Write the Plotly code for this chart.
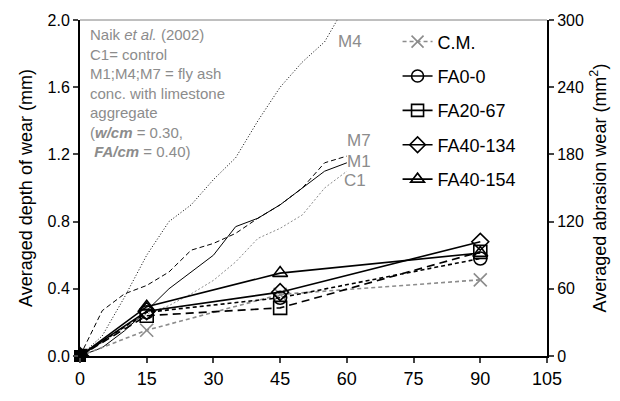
import plotly.graph_objects as go

# Naik et al. (2002) reference curves (depth of wear, mm)
naik_days = [0, 5, 10, 15, 20, 25, 30, 35, 40, 45, 50, 55, 60]
C1 = [0, 0.08, 0.17, 0.25, 0.30, 0.37, 0.45, 0.56, 0.70, 0.76, 0.84, 1.00, 1.10]
M1 = [0, 0.05, 0.15, 0.27, 0.40, 0.50, 0.60, 0.77, 0.82, 0.90, 1.00, 1.10, 1.15]
M4 = [0, 0.12, 0.35, 0.60, 0.80, 0.90, 1.05, 1.18, 1.40, 1.60, 1.75, 1.87, 2.10]
M7 = [0, 0.27, 0.37, 0.42, 0.50, 0.63, 0.67, 0.73, 0.82, 0.90, 1.00, 1.15, 1.19]

# This study (abrasion wear, mm^2)
days = [0, 15, 45, 90]
CM = [0, 23, 55, 68]
FA0_0 = [0, 39, 52, 87]
FA20_67 = [0, 36, 43, 93]
FA40_134 = [0, 40, 57, 102]
FA40_154 = [0, 44, 74, 92]

xticks = [0, 15, 30, 45, 60, 75, 90, 105]
yticks_left = [0.0, 0.4, 0.8, 1.2, 1.6, 2.0]
yticks_right = [0, 60, 120, 180, 240, 300]

FONT = "Liberation Sans, Arial, sans-serif"
GRAY = "#8c8c8c"

fig = go.Figure()

naik = [("C1", C1, dict(color=GRAY, width=1, dash="2px,2px")),
        ("M1", M1, dict(color="black", width=1)),
        ("M4", M4, dict(color="black", width=1, dash="1px,2px")),
        ("M7", M7, dict(color="black", width=1, dash="5px,3px"))]
for name, ys, ln in naik:
    fig.add_trace(go.Scatter(x=naik_days, y=ys, mode="lines", line=ln,
                             showlegend=False, cliponaxis=True, yaxis="y"))

series = [("C.M.", CM, "x-thin-open", GRAY, "4px,3px"),
          ("FA0-0", FA0_0, "circle-open", "black", "4px,3px"),
          ("FA20-67", FA20_67, "square-open", "black", "8px,5px"),
          ("FA40-134", FA40_134, "diamond-open", "black", "solid"),
          ("FA40-154", FA40_154, "triangle-up-open", "black", "solid")]
for name, ys, sym, col, dash in series:
    fig.add_trace(go.Scatter(x=days, y=ys, mode="lines+markers", yaxis="y2",
                             line=dict(color=col, width=1.6, dash=dash),
                             marker=dict(symbol=sym, size=13, color=col,
                                         line=dict(color=col, width=1.6)),
                             showlegend=False))

# origin point where all markers coincide (drawn as filled square in reference)
fig.add_trace(go.Scatter(x=days[:1], y=FA20_67[:1], mode="markers", yaxis="y2",
                         marker=dict(symbol="square", size=12, color="black"),
                         showlegend=False, cliponaxis=False))

# legend entries (solid short lines as in the reference legend)
for i, (name, ys, sym, col, dash) in enumerate(series):
    fig.add_trace(go.Scatter(x=[None], y=[None], mode="lines+markers", yaxis="y2",
                             name=name, legendgroup=str(i),
                             line=dict(color=col, width=1.6, dash="4px,3px" if name == "C.M." else "solid"),
                             marker=dict(symbol=sym, size=12, color=col,
                                         line=dict(color=col, width=1.6))))

anns = [
    dict(x=57.5, y=1.87, text="M4"),
    dict(x=59.5, y=1.285, text="M7"),
    dict(x=59.5, y=1.16, text="M1"),
    dict(x=59.0, y=1.045, text="C1"),
]
annotations = [dict(x=a["x"], y=a["y"], text=a["text"], xref="x", yref="y",
                    showarrow=False, xanchor="left", yanchor="middle",
                    font=dict(family=FONT, size=17, color=GRAY)) for a in anns]
annotations.append(dict(
    x=0.017, y=0.988, xref="paper", yref="paper", xanchor="left", yanchor="top",
    align="left", showarrow=False,
    text=("Naik <i>et al.</i> (2002)<br>C1= control<br>M1;M4;M7 = fly ash<br>"
          "conc. with limestone<br>aggregate<br>(<b><i>w/cm</i></b> = 0.30,<br>"
          "&nbsp;<b><i>FA/cm</i></b> = 0.40)"),
    font=dict(family=FONT, size=15, color=GRAY)))

fig.update_layout(
    width=620, height=401,
    margin=dict(l=80, r=73, t=18, b=37),
    paper_bgcolor="white", plot_bgcolor="white",
    font=dict(family=FONT, color="black"),
    annotations=annotations,
    showlegend=True,
    legend=dict(x=0.68, y=0.99, xanchor="left", yanchor="top",
                bgcolor="rgba(0,0,0,0)", font=dict(family=FONT, size=18),
                itemwidth=30, tracegroupgap=8),
    xaxis=dict(range=[0, 105], tickvals=xticks, ticks="outside", ticklen=5,
               tickwidth=1.5, showline=True, linecolor="black", linewidth=2,
               showgrid=False, zeroline=False, tickfont=dict(size=18)),
    yaxis=dict(range=[0, 2.0], tickvals=yticks_left, tickformat=".1f",
               ticks="outside", ticklen=5, tickwidth=1.5, showline=True,
               linecolor="black", linewidth=2, showgrid=False, zeroline=False,
               tickfont=dict(size=16),
               title=dict(text="Averaged depth of wear (mm)", font=dict(size=18), standoff=10)),
    yaxis2=dict(range=[0, 300], tickvals=yticks_right, overlaying="y", side="right",
                ticks="outside", ticklen=5, tickwidth=1.5, showline=True,
                linecolor="black", linewidth=2, showgrid=False, zeroline=False,
                tickfont=dict(size=16),
                title=dict(text="Averaged abrasion wear (mm<sup>2</sup>)", font=dict(size=18), standoff=10)),
    shapes=[dict(type="line", xref="paper", yref="paper", x0=0, x1=1, y0=1, y1=1,
                 line=dict(color="#808080", width=1))],
)

fig.write_html("out.html")
